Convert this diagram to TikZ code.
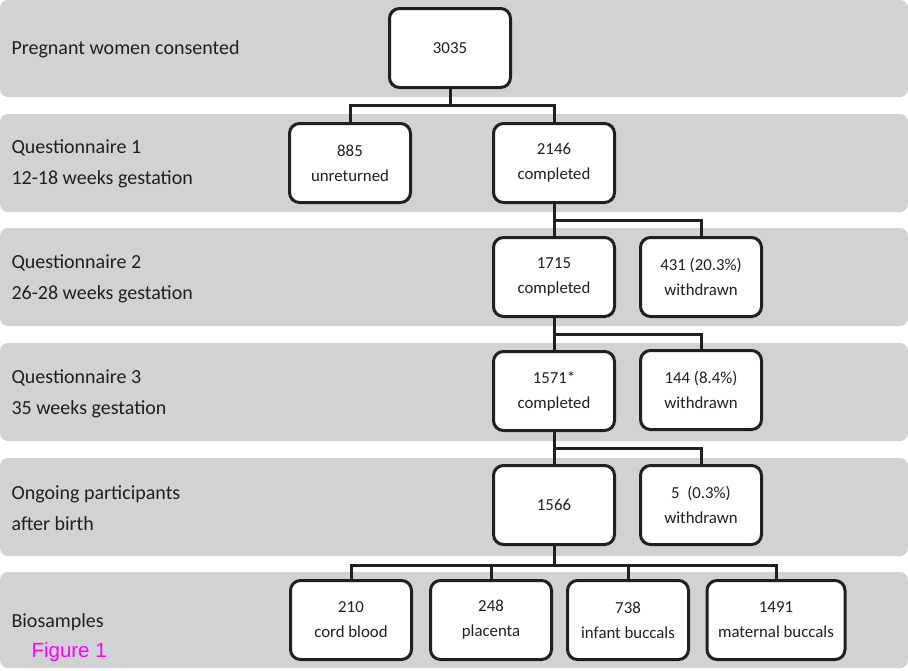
\documentclass[tikz,border=0pt]{standalone}
\usepackage{fontspec}
\setmainfont{Carlito}
\newfontfamily\figfont{Liberation Sans}
\definecolor{bandgray}{RGB}{209,210,212}
\definecolor{inkgray}{RGB}{35,31,32}
\definecolor{figmagenta}{RGB}{255,0,255}
\tikzset{
  band/.style={fill=bandgray, rounded corners=8pt},
  bandlabel/.style={anchor=west, align=left, text=inkgray, font=\fontsize{20}{31}\selectfont},
  countbox/.style={draw=inkgray, fill=white, line width=3pt, rounded corners=10pt,
    minimum width=121pt, minimum height=79pt, align=center, text=inkgray,
    font=\fontsize{16.8}{25}\selectfont},
  link/.style={draw=inkgray, line width=3pt}
}
\begin{document}
\begin{tikzpicture}[x=1pt, y=-1pt]
	    \useasboundingbox (0,0) rectangle (908,670);
	    % grey bands
	    \fill[band] (0,0) rectangle (908,97);
	    \fill[band] (0,114) rectangle (908,212);
	    \fill[band] (0,228) rectangle (908,326);
	    \fill[band] (0,343) rectangle (908,441);
	    \fill[band] (0,458) rectangle (908,556);
	    \fill[band] (0,572) rectangle (908,668);
	    
	    \node[bandlabel] at (8, 49) (L1) {Pregnant women consented};
	    \node[bandlabel] at (8, 164) (L2) {Questionnaire 1\\12-18 weeks gestation};
	    \node[bandlabel] at (8, 279) (L3) {Questionnaire 2\\26-28 weeks gestation};
	    \node[bandlabel] at (8, 394) (L4) {Questionnaire 3\\35 weeks gestation};
	    \node[bandlabel] at (8, 508) (L5) {Ongoing participants\\after birth};
	    \node[bandlabel] at (8, 622) (L6) {Biosamples};
	    \node[anchor=west, text=figmagenta, font=\figfont\fontsize{20.5}{24}\selectfont] at (28, 652) (fig) {Figure 1};
	    
	    % junctions
	    \coordinate (j1) at (450, 105);
	    \coordinate (j2) at (554, 220);
	    \coordinate (j3) at (554, 334);
	    \coordinate (j4) at (554, 448);
	    \coordinate (j5) at (554, 565);
	    
	    \node[countbox] at (450, 48) (n3035) {3035};
	    \node[countbox] at (350, 163) (n885) {885\\unreturned};
	    \node[countbox] at (554, 163) (n2146) {2146\\completed};
	    \node[countbox] at (554, 277) (n1715) {1715\\completed};
	    \node[countbox] at (701, 277) (n431) {431 (20.3\%)\\withdrawn};
	    \node[countbox] at (554, 391) (n1571) {1571*\\completed};
	    \node[countbox] at (701, 390) (n144) {144 (8.4\%)\\withdrawn};
	    \node[countbox] at (554, 505) (n1566) {1566};
	    \node[countbox] at (701, 505) (n5) {5\ \ (0.3\%)\\withdrawn};
	    \node[countbox] at (351, 620) (n210) {210\\cord blood};
	    \node[countbox] at (491, 620) (n248) {248\\placenta};
	    \node[countbox] at (628, 620) (n738) {738\\infant buccals};
	    \node[countbox, minimum width=138pt] at (776, 620) (n1491) {1491\\maternal buccals};
	    
	    \draw[link] (n3035.south) -- (j1) -| (n885.north);
	    \draw[link] (j1) -| (n2146.north);
	    \draw[link] (n2146.south) -- (n1715.north);
	    \draw[link] (j2) -| (n431.north);
	    \draw[link] (n1715.south) -- (n1571.north);
	    \draw[link] (j3) -| (n144.north);
	    \draw[link] (n1571.south) -- (n1566.north);
	    \draw[link] (j4) -| (n5.north);
	    \draw[link] (n1566.south) -- (j5) -| (n210.north);
	    \draw[link] (j5) -| (n248.north);
	    \draw[link] (j5) -| (n738.north);
	    \draw[link] (j5) -| (n1491.north);
	    
	    \end{tikzpicture}
\end{document}
